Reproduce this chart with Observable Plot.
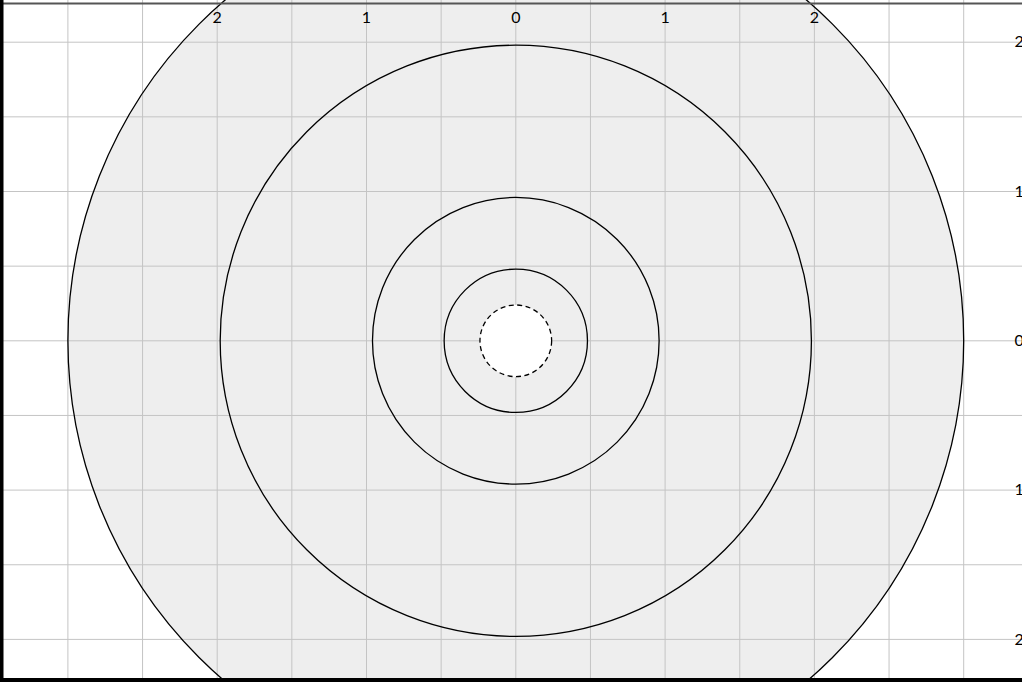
<!DOCTYPE html>
<html>
<head>
<meta charset="utf-8">
<script src="https://cdn.jsdelivr.net/npm/d3@7"></script>
<script src="https://cdn.jsdelivr.net/npm/@observablehq/plot@0.6"></script>
<style>
  html, body { margin: 0; padding: 0; background: #fff; }
  #chart svg { display: block; overflow: hidden; }
</style>
</head>
<body>
<div id="chart"></div>
<script>
// Ring radii (data units), outermost first
const ringRadii = [3.0, 1.98, 0.96, 0.48];
const innerRadius = [0.24];
// Grid lines (data units)
const xGrid = [-3, -2.5, -2, -1.5, -1, -0.5, 0, 0.5, 1, 1.5, 2, 2.5, 3];
const yGrid = [-2, -1.5, -1, -0.5, 0, 0.5, 1, 1.5, 2];
// Tick labels
const xTicks = [-2, -1, 0, 1, 2];
const xTickLabels = ["2", "1", "0", "1", "2"];
const yTicks = [2, 1, 0, -1, -2];
const yTickLabels = ["2", "1", "0", "1", "2"];

const W = 1022, H = 682;
const unit = 149.3, cx = 515.3, cy = 340.3;
const xDomain = [-cx / unit, (W - cx) / unit];
const yDomain = [-(H - cy) / unit, cy / unit];

const rings = ringRadii.map(r => ({cx: 0, cy: 0, r}));
const inner = innerRadius.map(r => ({cx: 0, cy: 0, r}));
const outer = [rings[0]];

const chart = Plot.plot({
  width: W,
  height: H,
  margin: 0,
  style: {fontFamily: "Lato, sans-serif", fontSize: "16px", background: "#fff", color: "#000"},
  x: {domain: xDomain, axis: null},
  y: {domain: yDomain, axis: null},
  r: {type: "linear", domain: [0, 1], range: [0, unit]},
  marks: [
    Plot.dot(outer, {x: "cx", y: "cy", r: "r", fill: "#eeeeee", stroke: "none"}),
    Plot.ruleX(xGrid, {stroke: "#c4c4c4", strokeWidth: 1, strokeOpacity: 1}),
    Plot.ruleY(yGrid, {stroke: "#c4c4c4", strokeWidth: 1, strokeOpacity: 1}),
    Plot.dot(inner, {x: "cx", y: "cy", r: "r", fill: "#fff", stroke: "#000", strokeWidth: 1.3, strokeDasharray: "5,3.5"}),
    Plot.dot(rings, {x: "cx", y: "cy", r: "r", fill: "none", stroke: "#000", strokeWidth: 1.3}),
    Plot.text(xTicks, {x: d => d, text: (d, i) => xTickLabels[i], frameAnchor: "top", lineAnchor: "middle", dy: 17, fill: "#000"}),
    Plot.text(yTicks, {y: d => d, text: (d, i) => yTickLabels[i], frameAnchor: "right", textAnchor: "start", lineAnchor: "middle", dx: -8, fill: "#000"}),
    Plot.ruleY([yDomain[1]], {stroke: "#555", strokeWidth: 2, dy: 3}),
    Plot.ruleX([xDomain[0]], {stroke: "#000", strokeWidth: 6}),
    Plot.ruleY([yDomain[0]], {stroke: "#000", strokeWidth: 9})
  ]
});
document.getElementById("chart").appendChild(chart);
</script>
</body>
</html>
